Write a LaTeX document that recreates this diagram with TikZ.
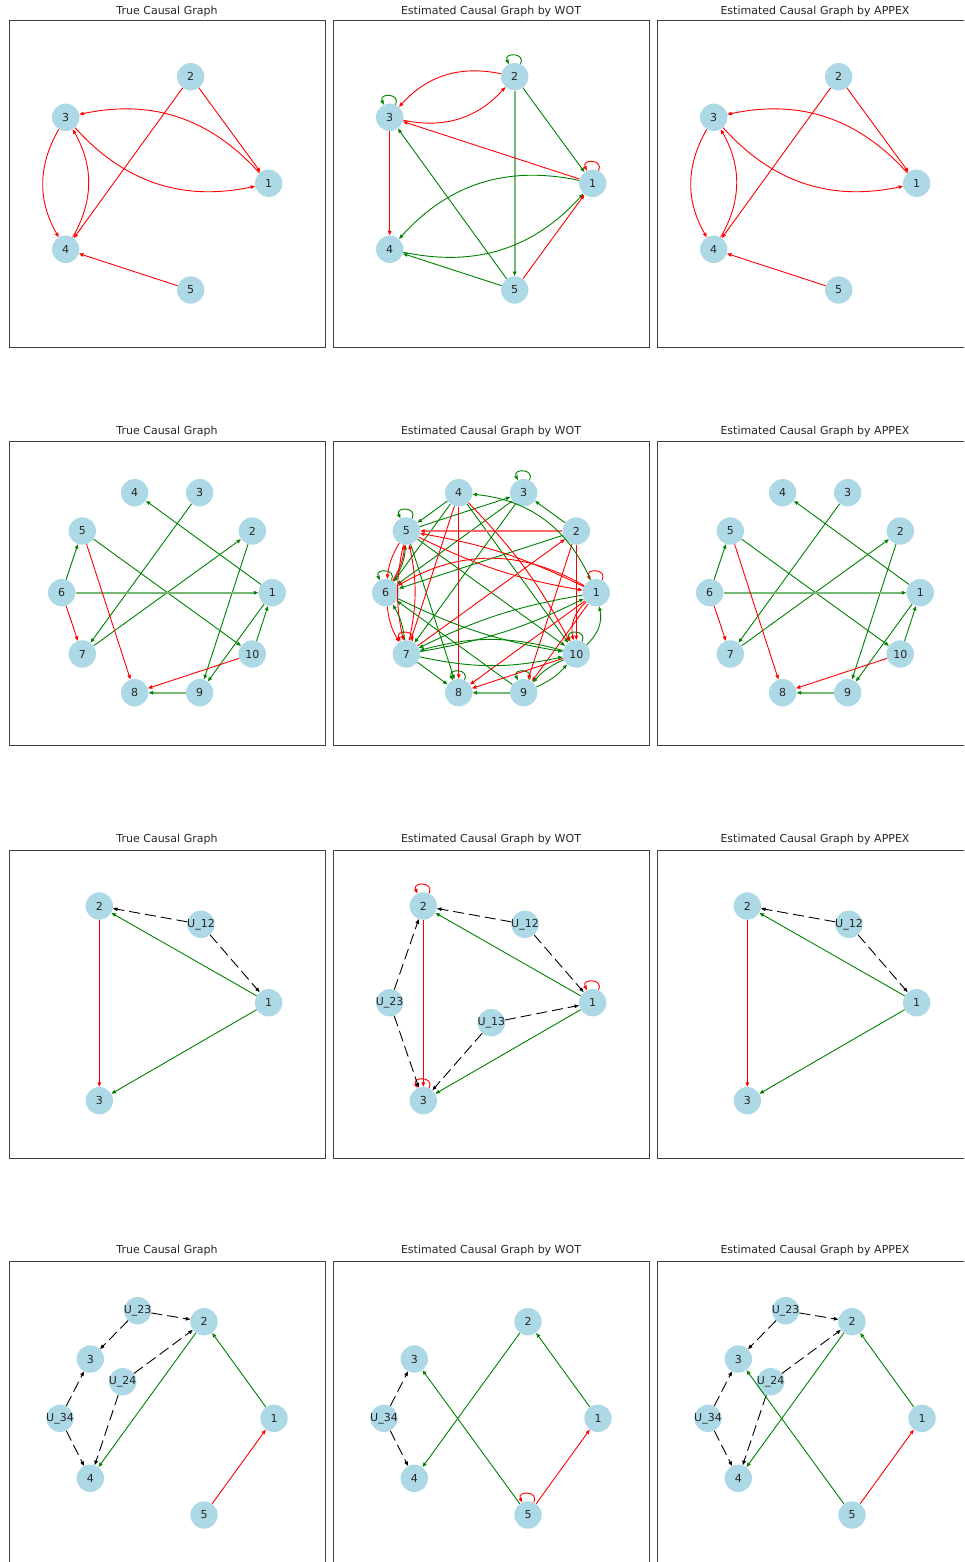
\documentclass[tikz,border=0pt]{standalone}
\usepackage{fontspec}
\setmainfont{DejaVu Sans}
\usetikzlibrary{arrows.meta}
\definecolor{lb}{HTML}{ADD8E6}
\definecolor{mg}{HTML}{008000}
\newcommand\sloop[2]{\draw[#1] (#2.65) .. controls +(65:13pt) and +(115:13pt) .. (#2.115);}
\begin{document}
\begin{tikzpicture}[x=1pt,y=1pt,
 vtx/.style={circle,fill=lb,minimum size=27.4pt,inner sep=0pt,font=\fontsize{11}{11}\selectfont,text=black!85},
 ttl/.style={font=\fontsize{11}{11}\selectfont,text=black!85},
 frm/.style={draw=black!75,line width=0.8pt},
 ed/.style={line width=0.9pt,-{Triangle[length=4.5pt,width=3.5pt]}},
 re/.style={ed,draw=red},
 ge/.style={ed,draw=mg},
 gt/.style={line width=1.7pt,draw=mg!55,-{Triangle[length=4.5pt,width=3.5pt,color=mg]}},
 rt/.style={line width=1.7pt,draw=red!60,-{Triangle[length=4.5pt,width=3.5pt,color=red]}},
 be/.style={ed,draw=black,dash pattern=on 11pt off 5pt},
 cv/.style={bend right=30},
 sv/.style={bend right=12}]
\useasboundingbox (0,0) rectangle (964,-1562);
\clip (0,0) rectangle (964,-1562);
% frames and titles
\foreach \dx/\t in {0/True Causal Graph,324/Estimated Causal Graph by WOT,648/Estimated Causal Graph by APPEX}{
  \draw[frm] (9+\dx,-20.5) rectangle (325+\dx,-347.3);
  \draw[frm] (9+\dx,-441) rectangle (325+\dx,-745);
  \draw[frm] (9+\dx,-850) rectangle (325+\dx,-1158);
  \draw[frm] (9+\dx,-1261) rectangle (325+\dx,-1580);
  \node[ttl] at (167+\dx,-11) {\t};
  \node[ttl] at (167+\dx,-431) {\t};
  \node[ttl] at (167+\dx,-839.5) {\t};
  \node[ttl] at (167+\dx,-1250.5) {\t};
}
% ---------------- Row 1 ----------------
\foreach \p/\dx in {a/0,b/324,c/648}{
  \node[vtx] (\p1) at (268.7+\dx,-183.3) {1};
  \node[vtx] (\p2) at (190.7+\dx,-76.7) {2};
  \node[vtx] (\p3) at (65.7+\dx,-117.3) {3};
  \node[vtx] (\p4) at (65.7+\dx,-249.3) {4};
  \node[vtx] (\p5) at (190.7+\dx,-290) {5};
}
\foreach \p in {a,c}{
  \draw[re] (\p2) -- (\p1);
  \draw[re] (\p2) -- (\p4);
  \draw[re] (\p3) to[cv] (\p1);
  \draw[re] (\p1) to[cv] (\p3);
  \draw[re] (\p3) to[cv] (\p4);
  \draw[re] (\p4) to[cv] (\p3);
  \draw[re] (\p5) -- (\p4);
}
\sloop{ge}{b2}
\sloop{ge}{b3}
\sloop{re}{b1}
\draw[re] (b2) to[cv] (b3);
\draw[re] (b3) to[cv] (b2);
\draw[gt] (b2) -- (b5);
\draw[ge] (b2) -- (b1);
\draw[re] (b1) -- (b3);
\draw[ge] (b5) -- (b3);
\draw[re] (b3) -- (b4);
\draw[ge] (b1) to[cv] (b4);
\draw[ge] (b4) to[cv] (b1);
\draw[ge] (b5) -- (b4);
\draw[re] (b5) -- (b1);
% ---------------- Row 2 ----------------
\foreach \p/\dx in {d/0,e/324,f/648}{
  \node[vtx] (\p1) at (272.3+\dx,-592.7) {1};
  \node[vtx] (\p2) at (252.3+\dx,-531) {2};
  \node[vtx] (\p3) at (199.7+\dx,-492.7) {3};
  \node[vtx] (\p4) at (134.7+\dx,-492.7) {4};
  \node[vtx] (\p5) at (82.3+\dx,-531) {5};
  \node[vtx] (\p6) at (61.7+\dx,-592.7) {6};
  \node[vtx] (\p7) at (82.3+\dx,-654) {7};
  \node[vtx] (\p8) at (134.7+\dx,-692.7) {8};
  \node[vtx] (\p9) at (199.7+\dx,-692.7) {9};
  \node[vtx] (\p10) at (252.3+\dx,-654) {10};
}
\foreach \p in {d,f}{
  \draw[ge] (\p1) -- (\p4);
  \draw[ge] (\p3) -- (\p7);
  \draw[ge] (\p7) -- (\p2);
  \draw[ge] (\p2) -- (\p9);
  \draw[ge] (\p6) -- (\p5);
  \draw[ge] (\p5) -- (\p10);
  \draw[gt] (\p6) -- (\p1);
  \draw[ge] (\p1) -- (\p9);
  \draw[ge] (\p10) -- (\p1);
  \draw[gt] (\p9) -- (\p8);
  \draw[re] (\p5) -- (\p8);
  \draw[re] (\p6) -- (\p7);
  \draw[re] (\p10) -- (\p8);
}
% WOT row 2 (dense)
\sloop{ge}{e3}
\sloop{ge}{e5}
\sloop{ge}{e6}
\sloop{re}{e1}
\sloop{re}{e7}
\sloop{ge}{e8}
\sloop{ge}{e9}
\sloop{ge}{e10}
\draw[ge] (e4) -- (e5);
\draw[ge] (e5) -- (e3);
\draw[ge] (e2) -- (e3);
\draw[ge] (e4) -- (e6);
\draw[ge] (e3) -- (e6);
\draw[ge] (e3) -- (e7);
\draw[ge] (e2) -- (e6);
\draw[ge] (e4) -- (e10);
\draw[ge] (e5) -- (e10);
\draw[ge] (e5) -- (e8);
\draw[ge] (e9) -- (e6);
\draw[ge] (e7) -- (e8);
\draw[gt] (e9) -- (e8);
\draw[ge] (e6) to[bend right=15] (e5);
\draw[rt] (e2) -- (e5);
\draw[re] (e4) -- (e8);
\draw[re] (e2) -- (e10);
\draw[re] (e7) -- (e2);
\draw[re] (e2) -- (e9);
\draw[re] (e1) -- (e8);
\draw[re] (e1) -- (e9);
\draw[re] (e4) -- (e7);
\draw[re] (e4) to[bend left=8] (e10);
\draw[re] (e10) -- (e8);
\draw[re] (e1) to[bend right=8] (e5);
\draw[re] (e5) to[bend right=8] (e1);
\draw[re] (e1) to[cv] (e6);
\draw[ge] (e1) to[bend right=8] (e7);
\draw[ge] (e7) to[bend right=8] (e1);
\draw[ge] (e10) to[cv] (e1);
\draw[re] (e1) to[cv] (e10);
\draw[re] (e5) to[sv] (e6);
\draw[re] (e6) to[sv] (e5);
\draw[re] (e5) to[sv] (e7);
\draw[re] (e7) to[sv] (e5);
\draw[re] (e6) to[sv] (e7);
\draw[ge] (e7) to[sv] (e6);
\draw[ge] (e9) to[sv] (e10);
\draw[ge] (e10) to[sv] (e9);
\draw[ge] (e6) to[bend right=8] (e10);
\draw[ge] (e10) to[bend right=15] (e7);
\draw[ge] (e7) to[bend right=12] (e10);
\draw[ge] (e1) to[cv] (e4);
% ---------------- Row 3 ----------------
\foreach \p/\dx in {g/0,h/324,i/648}{
  \node[vtx] (\p1) at (268.7+\dx,-1002.7) {1};
  \node[vtx] (\p2) at (99.3+\dx,-906) {2};
  \node[vtx] (\p3) at (99.3+\dx,-1100.7) {3};
  \node[vtx] (\p12) at (201+\dx,-924.3) {\makebox[0pt]{U\_12}};
}
\node[vtx] (h23) at (389.7,-1002.7) {\makebox[0pt]{U\_23}};
\node[vtx] (h13) at (491.3,-1022.7) {\makebox[0pt]{U\_13}};
\foreach \p in {g,h,i}{
  \draw[be] (\p12) -- (\p2);
  \draw[be] (\p12) -- (\p1);
  \draw[ge] (\p1) -- (\p2);
  \draw[ge] (\p1) -- (\p3);
  \draw[re] (\p2) -- (\p3);
}
\sloop{re}{h2}
\sloop{re}{h1}
\sloop{re}{h3}
\draw[be] (h23) -- (h2);
\draw[be] (h23) -- (h3);
\draw[be] (h13) -- (h1);
\draw[be] (h13) -- (h3);
% ---------------- Row 4 ----------------
\foreach \p/\dx in {j/0,k/324,l/648}{
  \node[vtx] (\p1) at (274+\dx,-1418.3) {1};
  \node[vtx] (\p2) at (204+\dx,-1321.7) {2};
  \node[vtx] (\p3) at (90.3+\dx,-1359) {3};
  \node[vtx] (\p4) at (90.3+\dx,-1478.3) {4};
  \node[vtx] (\p5) at (204+\dx,-1515) {5};
  \node[vtx] (\p34) at (60+\dx,-1418.3) {\makebox[0pt]{U\_34}};
  \draw[be] (\p34) -- (\p3);
  \draw[be] (\p34) -- (\p4);
  \draw[ge] (\p1) -- (\p2);
  \draw[ge] (\p2) -- (\p4);
  \draw[re] (\p5) -- (\p1);
}
\foreach \p/\dx in {j/0,l/648}{
  \node[vtx] (\p23) at (137.7+\dx,-1310.7) {\makebox[0pt]{U\_23}};
  \node[vtx] (\p24) at (122.7+\dx,-1381.7) {\makebox[0pt]{U\_24}};
  \draw[be] (\p23) -- (\p2);
  \draw[be] (\p23) -- (\p3);
  \draw[be] (\p24) -- (\p2);
  \draw[be] (\p24) -- (\p4);
}
\draw[ge] (k5) -- (k3);
\draw[ge] (l5) -- (l3);
\sloop{re}{k5}
\end{tikzpicture}
\end{document}
